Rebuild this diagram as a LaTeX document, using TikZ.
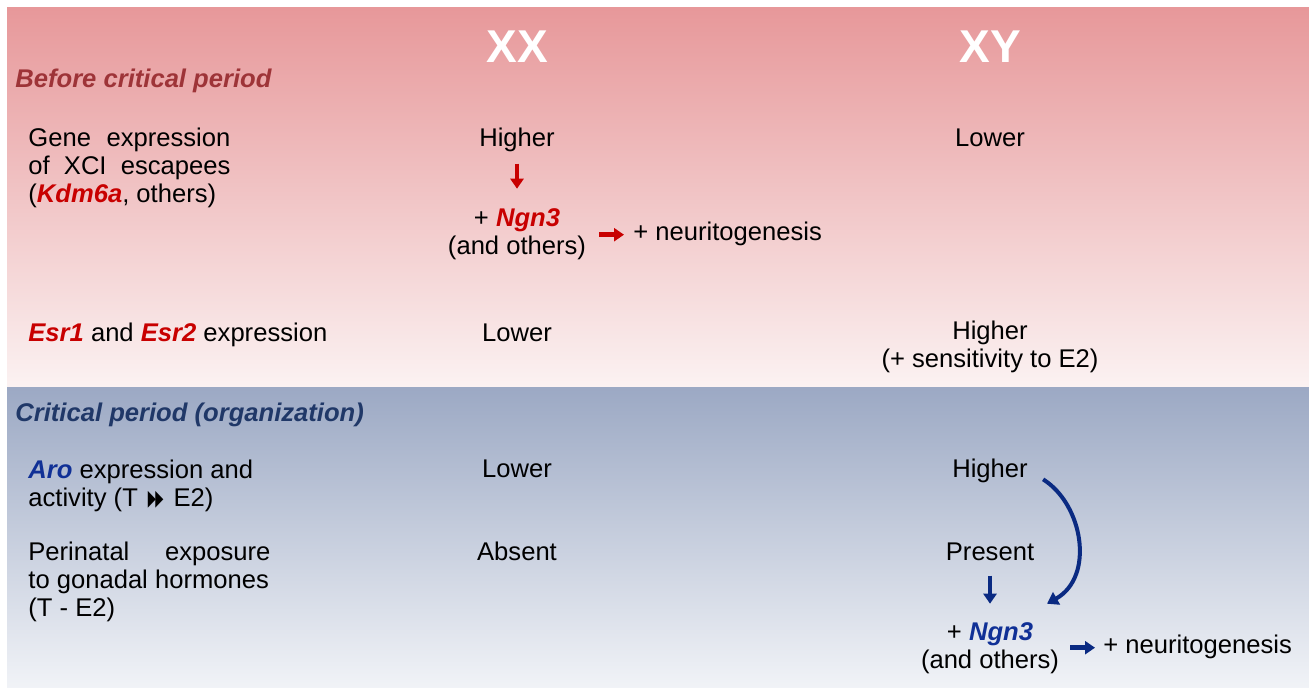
\documentclass[tikz,border=0pt]{standalone}
\usepackage{fontspec}
\setmainfont{Liberation Sans}
\newfontfamily\symfont{DejaVu Sans}
\usetikzlibrary{arrows.meta}
\definecolor{pinkTop}{RGB}{231,152,154}
\definecolor{pinkBot}{RGB}{251,242,242}
\definecolor{blueTop}{RGB}{156,169,196}
\definecolor{blueBot}{RGB}{241,243,247}
\definecolor{darkRed}{RGB}{158,52,56}
\definecolor{darkBlue}{RGB}{32,56,104}
\definecolor{geneRed}{RGB}{200,0,0}
\definecolor{geneBlue}{RGB}{16,48,150}
\definecolor{arrBlue}{RGB}{10,42,130}
\newcommand{\tri}{\scalebox{0.48}[1]{▶}}

\begin{document}
\begin{tikzpicture}[x=0.5pt,y=-0.5pt,
  txt/.style={inner sep=0pt,anchor=base,font=\fontsize{12.8}{14}\selectfont},
  ltxt/.style={txt,anchor=base west},
  para/.style={ltxt,align=justify},
  head/.style={inner sep=0pt,anchor=base west,font=\fontsize{12.8}{14}\selectfont\bfseries\itshape},
  sex/.style={inner sep=0pt,anchor=base,text=white,font=\fontsize{23}{23}\selectfont\bfseries},
  redarrow/.style={geneRed,line width=2.3pt,-{Triangle[length=5pt,width=6.5pt]}},
  bluearrow/.style={arrBlue,line width=2.3pt,-{Triangle[length=5pt,width=6.5pt]}}]
  \useasboundingbox (0,0) rectangle (1309,688);
  \shade[top color=pinkTop,bottom color=pinkBot] (7,8) rectangle (1309,387);
  \shade[top color=blueTop,bottom color=blueBot] (7,388) rectangle (1309,688);

  \node[sex] (xx) at (517,63) {XX};
  \node[sex] (xy) at (990,63) {XY};

  \node[head,text=darkRed] (before) at (15,88) {Before critical period};
  \node[para,text width=101pt] (gene) at (28,147) {Gene expression\linebreak of XCI escapees\linebreak (\textcolor{geneRed}{\textbf{\textit{Kdm6a}}}, others)};
  \node[txt] (hiXX) at (517,147) {Higher};
  \node[txt] (loXY) at (990,147) {Lower};
  \node[txt,align=center] (ngXX) at (517,255) {+ \textcolor{geneRed}{\textbf{\textit{Ngn3}}}\\(and others)};
  \node[ltxt] (neuXX) at (633,241) {+ neuritogenesis};
  \node[ltxt] (esr) at (28,342) {\textcolor{geneRed}{\textbf{\textit{Esr1}}} and \textcolor{geneRed}{\textbf{\textit{Esr2}}} expression};
  \node[txt] (loXX) at (517,342) {Lower};
  \node[txt,align=center] (hiXY) at (990,368) {Higher\\(+ sensitivity to E2)};

  \node[head,text=darkBlue] (crit) at (15,422) {Critical period (organization)};
  \node[ltxt,align=left] (aro) at (28,507) {\textcolor{geneBlue}{\textbf{\textit{Aro}}} expression and\\activity (T\kern5pt\raisebox{0.6pt}{\symfont\fontsize{11}{11}\selectfont\tri\kern-0.3pt\tri}\kern5pt{}E2)};
  \node[txt] (loXX2) at (517,478) {Lower};
  \node[txt] (hiXY2) at (990,478) {Higher};
  \node[para,text width=121pt] (peri) at (28,560) {Perinatal exposure\linebreak to gonadal hormones\\(T - E2)};
  \node[txt] (absXX) at (517,560) {Absent};
  \node[txt] (presXY) at (990,560) {Present};
  \node[txt,align=center] (ngXY) at (990,668) {+ \textcolor{geneBlue}{\textbf{\textit{Ngn3}}}\\(and others)};
  \node[ltxt] (neuXY) at (1103,653) {+ neuritogenesis};

  \draw[redarrow,shorten <=5.5pt,shorten >=10pt] (hiXX.south) -- (ngXX.north);
  \draw[redarrow,shorten <=6.3pt,shorten >=4.5pt] (ngXX.east) -- (ngXX.east -| neuXX.west);
  \draw[bluearrow,shorten <=7.5pt,shorten >=9pt] (presXY.south) -- (ngXY.north);
  \draw[bluearrow,shorten <=5.3pt,shorten >=4pt] (ngXY.east) -- (ngXY.east -| neuXY.west);
  \draw[arrBlue,line width=2pt,-{Triangle[length=5.5pt,width=7pt]}] ([xshift=7.5pt,yshift=-4pt]hiXY2.east) .. controls +(40,25) and +(48,-27) .. ([xshift=28.5pt,yshift=9pt]ngXY.north);
\end{tikzpicture}
\end{document}
